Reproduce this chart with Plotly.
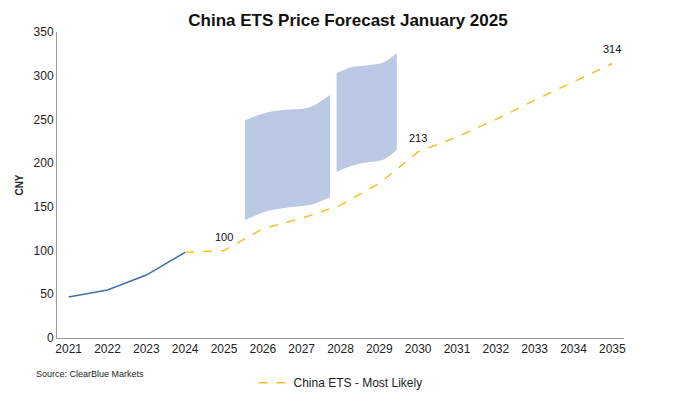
import plotly.graph_objects as go

years_hist = [2021, 2022, 2023, 2024]
hist = [47, 55, 72, 98]
years_fc = list(range(2024, 2036))
forecast = [98, 100, 125, 137, 152, 177, 213, 230, 250, 272, 293, 314]
labels = {2025: "100", 2030: "213", 2035: "314"}

band1_x = [2025.54, 2026.1, 2026.6, 2027.2, 2027.73]
band1_top = [249, 258, 261, 264, 278]
band1_bot = [135, 145, 149, 152, 161]
band2_x = [2027.9, 2028.3, 2028.7, 2029.1, 2029.45]
band2_top = [303, 310, 312, 315, 326]
band2_bot = [190, 197, 201, 204, 215]

fig = go.Figure()
for bx, bt, bb in [(band1_x, band1_top, band1_bot), (band2_x, band2_top, band2_bot)]:
    fig.add_trace(go.Scatter(x=bx, y=bb, mode="lines", line=dict(width=0, shape="spline"),
                             showlegend=False, hoverinfo="skip"))
    fig.add_trace(go.Scatter(x=bx, y=bt, mode="lines", fill="tonexty",
                             fillcolor="rgba(180,195,225,0.9)", line=dict(width=0, shape="spline"),
                             showlegend=False, hoverinfo="skip"))
fig.add_trace(go.Scatter(x=years_hist, y=hist, mode="lines", line=dict(color="#3f6fa8", width=1.5),
                         showlegend=False))
fig.add_trace(go.Scatter(x=years_fc, y=forecast, mode="lines", name="China ETS - Most Likely",
                         line=dict(color="#f2c12e", width=1.5, dash="dash")))
for yr, t in labels.items():
    fig.add_annotation(x=yr, y=forecast[years_fc.index(yr)], text=t, showarrow=False,
                       yshift=14, font=dict(size=11, color="#111"))

fig.add_annotation(text="Source: ClearBlue Markets", xref="paper", yref="paper", x=-0.04, y=-0.14,
                   xanchor="left", showarrow=False, font=dict(size=9, color="#222"))

fig.update_layout(
    width=680, height=403, paper_bgcolor="white", plot_bgcolor="white",
    font=dict(family="Liberation Sans, Arial", size=12, color="#222"),
    title=dict(text="<b>China ETS Price Forecast January 2025</b>", x=0.5, y=0.985,
               font=dict(size=17, color="#111")),
    margin=dict(l=49, r=64, t=24, b=73),
    xaxis=dict(range=[2020.7, 2035.3], tickmode="array", tickvals=list(range(2021, 2036)),
               showgrid=False, showline=True, linecolor="#999", ticks="", zeroline=False,
               automargin=False),
    yaxis=dict(range=[0, 350], dtick=50, showgrid=False, showline=True, linecolor="#999",
               title=dict(text="<b>CNY</b>", font=dict(size=10), standoff=8), zeroline=False,
               automargin=False),
    legend=dict(orientation="h", x=0.5, xanchor="center", yref="container", y=0.07,
                yanchor="middle", font=dict(size=12)),
)
fig.write_html("out.html")
